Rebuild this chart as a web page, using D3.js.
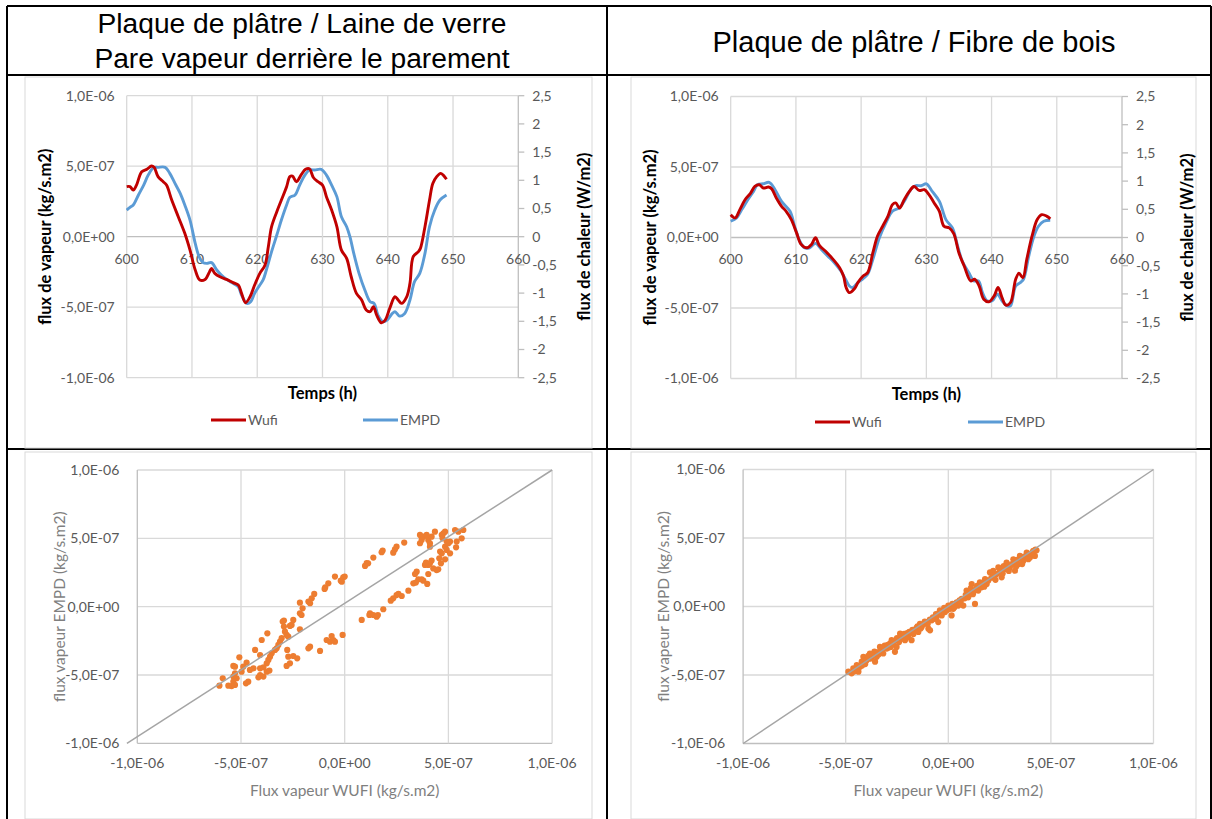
<!DOCTYPE html>
<html><head><meta charset="utf-8">
<script src="https://cdn.jsdelivr.net/npm/d3@7"></script>
<style>body{margin:0;background:#fff} svg{display:block}</style>
</head><body>
<svg id="c" width="1212" height="819"></svg>
<script>
// Vapour flux values are stored in units of 1e-7 kg/s.m2
const UNIT = 1e-7;

const titleLeft = ["Plaque de plâtre / Laine de verre", "Pare vapeur derrière le parement"];
const titleRight = ["Plaque de plâtre / Fibre de bois"];
const seriesNames = ["Wufi", "EMPD"];

const timeTicks = [600, 610, 620, 630, 640, 650, 660];
const fluxTicks = [-1e-6, -5e-7, 0, 5e-7, 1e-6];
const heatTicks = [-2.5, -2, -1.5, -1, -0.5, 0, 0.5, 1, 1.5, 2, 2.5];

// [time (h), vapour flux] – gypsum board / glass wool
const wufiGlass = [[600,3.55],[600.5,3.55],[601,3.31],[601.5,3.66],[602.3,4.6],[603.1,4.78],[603.8,5.01],[604.2,4.92],[604.8,4.26],[605.6,3.9],[606.1,3.66],[606.9,2.6],[607.9,1.42],[608.9,0.24],[609.7,-0.95],[610.5,-2.36],[611.2,-3.07],[612,-3.03],[612.7,-2.48],[613,-2.25],[613.5,-2.6],[614.3,-2.84],[615.3,-3.03],[616.3,-3.26],[617.1,-3.43],[617.6,-4.02],[618.2,-4.68],[618.9,-4.26],[619.6,-3.43],[620.4,-2.6],[621.2,-2.0],[621.7,-0.71],[622.2,0.71],[623,1.77],[623.7,2.6],[624.5,3.55],[625,4.26],[625.4,4.3],[626,3.9],[626.8,4.44],[627.4,4.78],[628,4.82],[628.6,4.2],[629.3,3.9],[630,3.66],[630.6,2.84],[631.4,1.89],[632.2,0.71],[632.9,-0.95],[633.7,-1.54],[634.4,-2.84],[635.2,-4.02],[636,-4.49],[636.7,-5.2],[637.3,-5.32],[637.8,-4.96],[638.3,-5.56],[639,-6.1],[639.6,-5.91],[640.3,-5.08],[641.1,-4.26],[641.6,-4.49],[642.1,-4.73],[642.9,-4.26],[643.4,-3.31],[643.9,-1.42],[644.7,-1.06],[645,-0.83],[645.7,0.71],[646.4,2.6],[646.9,3.78],[647.5,4.26],[648.1,4.49],[648.5,4.37],[649,4.07]];
const empdGlass = [[600,1.89],[600.5,2.08],[601,2.25],[601.8,2.96],[602.6,3.66],[603.3,4.37],[604.1,4.89],[604.8,4.92],[605.9,4.92],[606.6,4.49],[607.4,3.78],[608.2,3.07],[608.9,2.25],[609.7,1.18],[610.5,-0.47],[611.1,-1.42],[611.7,-1.84],[612.3,-1.89],[613,-1.84],[613.8,-2.36],[614.5,-2.72],[615.3,-3.03],[616.3,-3.31],[617.1,-3.55],[617.6,-4.14],[618.4,-4.73],[619,-4.61],[619.6,-4.02],[620.4,-3.43],[620.9,-3.07],[621.4,-2.36],[622.2,-1.06],[623,0.12],[623.7,1.18],[624.5,2.25],[625,2.79],[625.8,2.96],[626.5,3.66],[627.3,4.37],[628,4.73],[628.8,4.73],[629.8,4.78],[630.6,4.37],[631.4,3.66],[632.2,2.84],[632.9,1.42],[633.7,0.71],[634.2,0],[634.8,-1.2],[635.6,-2.6],[636.5,-3.8],[637.3,-4.61],[637.9,-4.73],[638.5,-5.56],[639.3,-6.03],[639.9,-5.91],[640.7,-5.44],[641.1,-5.32],[641.8,-5.63],[642.6,-5.44],[643.4,-4.49],[644.1,-3.19],[644.9,-2.6],[645.7,-1.18],[646.4,0.71],[647.2,1.89],[648,2.6],[649,2.96]];

// [time (h), vapour flux] – gypsum board / wood fibre
const wufiWood = [[600,1.62],[600.7,1.39],[601.4,1.98],[602.2,2.68],[603,3.11],[603.7,3.62],[604.4,3.74],[605,3.51],[605.8,3.58],[606.3,3.44],[607,2.8],[607.8,2.21],[608.5,1.86],[609.3,1.27],[610.1,0.33],[610.8,-0.49],[611.7,-0.73],[612.4,-0.49],[613,-0.02],[613.6,-0.56],[614.7,-1.04],[615.7,-1.55],[616.7,-2.14],[617.3,-2.73],[617.7,-3.55],[618.2,-3.91],[619,-3.62],[619.5,-3.2],[620.3,-2.73],[621,-2.49],[621.8,-1.08],[622.5,0.09],[623.3,0.8],[624.1,1.5],[624.8,2.33],[625.3,2.45],[625.9,2.09],[626.6,2.68],[627.4,3.27],[628.1,3.62],[628.9,3.34],[629.7,3.39],[630.4,3.04],[631.2,2.45],[632,1.86],[632.7,0.8],[633.5,0.68],[634.2,0.27],[635,-1.1],[635.8,-2.02],[636.8,-3.08],[637.4,-2.96],[638.1,-3.44],[638.8,-4.38],[639.6,-4.56],[640.4,-4.14],[641,-3.55],[641.6,-4.26],[642.2,-4.8],[642.9,-4.61],[643.7,-2.96],[644.2,-2.54],[644.8,-2.85],[645.4,-1.55],[646.2,0.09],[647,1.27],[647.7,1.62],[648.5,1.5],[649,1.32]];
const empdWood = [[600,1.15],[600.9,1.39],[601.7,1.98],[602.7,2.73],[603.5,3.27],[604.1,3.74],[605,3.81],[605.9,3.91],[606.8,3.39],[607.8,2.56],[609.1,1.86],[609.8,0.8],[610.6,-0.26],[611.3,-0.73],[612.1,-0.73],[613,-0.42],[613.9,-0.85],[614.9,-1.32],[615.9,-1.79],[616.9,-2.38],[617.6,-2.96],[618.2,-3.44],[618.7,-3.55],[619.5,-3.2],[620.3,-2.92],[621,-2.61],[621.8,-1.55],[622.8,-0.02],[623.8,1.04],[624.8,1.86],[625.8,2.09],[626.6,2.56],[627.6,3.39],[628.3,3.67],[629.2,3.67],[630,3.81],[630.9,3.27],[632,2.56],[633,1.27],[634,0.68],[634.8,-0.61],[635.5,-1.67],[636.5,-2.49],[637.3,-3.08],[638,-3.08],[638.6,-3.91],[639.3,-4.49],[640.1,-4.49],[640.9,-4.02],[641.6,-4.49],[642.4,-4.85],[642.9,-4.85],[643.7,-3.44],[644.4,-3.2],[644.9,-2.96],[645.7,-1.32],[646.5,0.09],[647.2,0.8],[648,1.15],[649,1.22]];

// [WUFI flux, EMPD flux] pairs – glass wool
const scatterGlass = [[1.38,3.59],[1.06,3.18],[0.98,2.98],[1.13,3.17],[-0.07,2.15],[-0.14,1.83],[-0.47,2.2],[0,2.2],[-0.19,1.9],[-0.79,1.71],[-0.94,1.41],[-0.97,1.30],[-1.47,0.93],[-1.59,0.61],[-1.75,0.37],[-1.67,0.25],[-2.16,0.29],[-2.03,-0.12],[-2.16,-0.49],[-2.08,-0.61],[-2.48,-0.97],[-2.93,-1.02],[-2.99,-1.09],[-2.56,-1.34],[-2.64,-1.41],[-2.16,-1.66],[-2.93,-1.46],[-2.88,-1.83],[-2.80,-2.07],[-2.72,-2.20],[-3.73,-1.95],[-4.0,-2.44],[-3.04,-2.31],[-3.12,-2.56],[-3.20,-2.80],[-3.28,-3.05],[-3.36,-3.17],[-4.32,-3.17],[-3.52,-3.41],[-3.60,-3.66],[-3.68,-3.90],[-3.76,-4.15],[-4.08,-3.54],[-2.77,-3.17],[-2.72,-3.66],[-2.48,-3.61],[-2.29,-3.78],[-1.67,-2.93],[-1.75,-3.05],[-1.19,-3.24],[-0.87,-2.44],[-0.71,-2.56],[-0.55,-2.44],[-0.63,-2.15],[-0.47,-2.56],[-0.10,-2.07],[0.82,-0.97],[1.22,-0.49],[1.19,-0.61],[1.38,-0.61],[1.54,-0.73],[1.6,-0.61],[-2.80,-4.34],[-2.64,-4.15],[-5.08,-3.71],[-4.73,-4.1],[-4.89,-4.39],[-4.97,-4.76],[-5.37,-4.34],[-5.29,-4.39],[-4.40,-4.51],[-4.08,-4.51],[-3.92,-4.44],[-4.57,-4.63],[-3.76,-4.76],[-3.63,-4.68],[-5.29,-4.88],[-5.37,-5.12],[-5.21,-5.24],[-4.08,-5.0],[-3.92,-5.12],[-4.16,-5.17],[-4.65,-5.49],[-4.76,-5.61],[-5.88,-5.24],[-5.37,-5.49],[-5.29,-5.73],[-5.45,-5.81],[-6.04,-5.78],[-5.61,-5.78],[1.83,4.10],[1.78,3.98],[2.34,3.95],[2.42,4.19],[2.50,4.39],[2.87,4.69],[3.63,5.25],[3.79,5.12],[3.63,4.64],[3.71,4.88],[4.03,4.88],[4.11,4.64],[4.19,5.12],[4.35,5.49],[4.11,4.39],[3.95,5.25],[4.68,5.25],[4.76,5.37],[4.84,5.49],[4.72,5.0],[5.32,5.61],[5.48,5.49],[5.72,5.61],[5.64,5.0],[5.40,4.76],[5.37,4.34],[4.92,4.76],[5.08,4.76],[4.84,4.39],[4.92,4.15],[5.08,3.90],[5.0,4.64],[4.60,4.03],[4.68,3.90],[4.56,3.54],[4.84,3.46],[4.64,3.17],[4.51,2.73],[4.19,3.37],[4.11,3.17],[4.03,3.05],[4.27,2.80],[4.43,2.68],[3.87,3.05],[3.92,3.22],[3.47,2.56],[3.39,2.39],[4.03,2.39],[3.55,2.0],[3.71,2.0],[3.79,1.90],[3.31,1.71],[3.43,1.76],[3.98,1.66],[3.07,1.17],[2.75,0.78],[2.59,0.93],[2.50,0.85],[2.34,0.61],[2.22,0.44],[1.86,-0.19]];

// [WUFI flux, EMPD flux] pairs – wood fibre
const scatterWood = [[-4.87,-4.76],[-4.63,-4.52],[-4.46,-4.28],[-4.71,-4.88],[-4.38,-4.76],[-4.55,-4.6],[-4.3,-4.4],[-4.14,-3.67],[-4.22,-4.03],[-3.98,-3.91],[-4.05,-4.2],[-3.82,-3.43],[-3.74,-3.79],[-3.9,-3.6],[-3.57,-4.03],[-3.49,-3.67],[-3.6,-3.3],[-3.33,-2.95],[-3.25,-3.19],[-3.17,-3.43],[-3.4,-3.5],[-3.0,-3.07],[-3.1,-2.85],[-2.84,-2.71],[-2.76,-2.46],[-2.6,-3.31],[-2.52,-2.95],[-2.9,-3.0],[-2.7,-2.75],[-2.45,-2.45],[-2.35,-1.98],[-2.27,-2.34],[-2.11,-2.46],[-2.2,-2.15],[-1.95,-2.22],[-1.79,-2.46],[-1.87,-1.86],[-2.0,-1.95],[-1.62,-1.74],[-1.46,-1.86],[-1.55,-1.55],[-1.3,-1.5],[-1.38,-1.26],[-1.2,-1.3],[-0.97,-1.62],[-0.89,-1.74],[-1.05,-1.14],[-0.81,-1.01],[-0.9,-0.95],[-0.57,-0.77],[-0.49,-1.14],[-0.65,-0.9],[-0.41,-0.29],[-0.32,-0.65],[-0.45,-0.5],[-0.16,-0.41],[-0.25,-0.3],[0,0.07],[0.08,-0.17],[0.16,-0.65],[0.24,-0.17],[0.1,0.05],[0.41,0.31],[0.49,0.07],[0.35,0.1],[0.65,0.55],[0.73,0.07],[0.6,0.3],[0.89,1.16],[0.97,0.67],[0.85,0.85],[1.14,1.64],[1.22,1.04],[1.30,0.19],[1.05,1.1],[1.46,1.16],[1.54,1.76],[1.62,1.4],[1.4,1.5],[1.79,2.0],[1.87,1.64],[1.7,1.75],[2.03,2.49],[2.19,2.61],[2.35,2.37],[2.1,2.1],[2.44,2.85],[2.6,2.13],[2.5,2.5],[2.76,2.73],[2.84,3.21],[2.7,2.95],[3.0,2.85],[3.17,3.45],[3.25,2.61],[3.1,3.1],[3.41,3.09],[3.49,3.69],[3.35,3.4],[3.65,3.33],[3.82,3.93],[3.7,3.65],[3.98,3.57],[4.14,4.06],[4.22,3.69],[4.05,3.85],[4.25,4.15],
  [-4.6,-4.75],[-4.45,-4.55],[-4.2,-4.3],[-4.0,-3.95],[-3.85,-3.8],[-3.7,-3.55],[-3.45,-3.35],[-3.3,-3.2],[-3.15,-3.0],[-2.95,-2.8],[-2.8,-2.95],[-2.65,-2.6],[-2.5,-2.3],[-2.4,-2.6],[-2.3,-2.2],[-2.15,-2.0],[-2.05,-2.3],[-1.9,-1.85],[-1.75,-1.7],[-1.7,-2.0],[-1.5,-1.45],[-1.35,-1.6],[-1.15,-1.1],[-1.0,-1.25],[-0.75,-0.8],[-0.6,-0.55],[-0.35,-0.45],[-0.2,-0.1],[-0.05,-0.25],[0.2,0.2],[0.3,-0.05],[0.55,0.45],[0.8,0.6],[0.95,0.95],[1.1,1.35],[1.2,0.9],[1.35,1.25],[1.6,1.6],[1.75,1.45],[1.95,1.9],[2.2,2.3],[2.3,1.95],[2.55,2.65],[2.65,2.4],[2.9,3.0],[2.95,2.6],[3.2,3.25],[3.3,2.9],[3.55,3.5],[3.6,3.1],[3.85,3.75],[3.9,3.45],[4.1,3.95],[4.3,4.1]];

const svg = d3.select("#c");
const FONT = "Lato, 'Open Sans', sans-serif";
const GRID = "#D9D9D9";
const TXT = "#595959";
const RED = "#C00000", BLUE = "#5B9BD5", ORANGE = "#ED7D31";

function fmtE(v) {
  if (v === 0) return "0,0E+00";
  const e = Math.floor(Math.log10(Math.abs(v)) + 1e-9);
  const m = v / Math.pow(10, e);
  return m.toFixed(1).replace(".", ",") + "E" + (e < 0 ? "-" : "+") + String(Math.abs(e)).padStart(2, "0");
}
const fmtDec = v => String(v).replace(".", ",");

// table frame
const frame = svg.append("g").attr("stroke", "#000").attr("stroke-width", 2);
[[7, 6, 1211, 6], [7, 75, 1211, 75], [7, 449, 1211, 449], [7, 6, 7, 819], [607, 6, 607, 819], [1211, 6, 1211, 819]]
  .forEach(([a, b, c, d]) => frame.append("line").attr("x1", a).attr("y1", b).attr("x2", c).attr("y2", d));

// header texts
function header(lines, cx, cy, size) {
  const t = svg.append("text").attr("text-anchor", "middle").attr("font-family", "'Liberation Sans', Arial, sans-serif")
    .attr("font-size", size).attr("fill", "#000");
  lines.forEach((s, i) => t.append("tspan").attr("x", cx).attr("y", cy + (i - (lines.length - 1) / 2) * 35).attr("dy", "0.36em").text(s));
}
header(titleLeft, 302, 40, 28.2);
header(titleRight, 914, 42, 29);

// chart area boxes
[[25, 77, 567, 371], [631, 77, 565, 371], [25, 452, 567, 367], [631, 452, 565, 367]].forEach(([x, y, w, h]) =>
  svg.append("rect").attr("x", x).attr("y", y).attr("width", w).attr("height", h).attr("fill", "#fff").attr("stroke", GRID).attr("stroke-width", 1));

function timeChart(o) {
  const g = svg.append("g");
  const x = d3.scaleLinear().domain([600, 660]).range([o.x0, o.x1]);
  const y = d3.scaleLinear().domain([-1e-6, 1e-6]).range([o.yb, o.yt]);
  const y2 = d3.scaleLinear().domain([-2.5, 2.5]).range([o.yb, o.yt]);

  g.selectAll(".hg").data(fluxTicks).join("line")
    .attr("x1", o.x0).attr("x2", o.x1).attr("y1", d => y(d)).attr("y2", d => y(d))
    .attr("stroke", d => d === 0 ? "#BFBFBF" : GRID).attr("stroke-width", 1.3);
  g.selectAll(".vg").data(timeTicks).join("line")
    .attr("x1", d => x(d)).attr("x2", d => x(d)).attr("y1", o.yt).attr("y2", o.yb)
    .attr("stroke", d => d === 660 ? "#BFBFBF" : GRID).attr("stroke-width", 1.3);
  g.selectAll(".rt").data(heatTicks).join("line")
    .attr("x1", o.x1).attr("x2", o.x1 + 6).attr("y1", d => y2(d)).attr("y2", d => y2(d))
    .attr("stroke", "#BFBFBF").attr("stroke-width", 1.3);

  const lab = g.append("g").attr("font-family", FONT).attr("font-size", 14).attr("fill", TXT);
  lab.selectAll(".yl").data(fluxTicks).join("text")
    .attr("x", o.x0 - 12).attr("y", d => y(d)).attr("dy", "0.35em").attr("text-anchor", "end").text(fmtE);
  lab.selectAll(".yr").data(heatTicks).join("text")
    .attr("x", o.x1 + 14).attr("y", d => y2(d)).attr("dy", "0.35em").text(fmtDec);
  lab.selectAll(".xl").data(timeTicks).join("text")
    .attr("x", d => x(d)).attr("y", y(0) + 22).attr("dy", "0.35em").attr("text-anchor", "middle").text(d => d);

  const line = d3.line().x(d => x(d[0])).y(d => y(d[1] * UNIT)).curve(d3.curveCatmullRom.alpha(0.5));
  g.append("path").datum(o.b).attr("d", line).attr("fill", "none").attr("stroke", BLUE).attr("stroke-width", 2.9);
  g.append("path").datum(o.a).attr("d", line).attr("fill", "none").attr("stroke", RED).attr("stroke-width", 2.9);

  const tt = g.append("g").attr("font-family", FONT).attr("font-size", 16.5).attr("font-weight", "bold").attr("fill", "#000");
  tt.append("text").attr("transform", `translate(${o.ylx},${y(0)}) rotate(-90)`).attr("text-anchor", "middle").attr("dy", "0.35em").text("flux de vapeur (kg/s.m2)");
  tt.append("text").attr("transform", `translate(${o.yrx},${y(0)}) rotate(-90)`).attr("text-anchor", "middle").attr("dy", "0.35em").text("flux de chaleur (W/m2)");
  tt.append("text").attr("x", (o.x0 + o.x1) / 2).attr("y", o.yb + 16).attr("dy", "0.35em").attr("text-anchor", "middle").text("Temps (h)");

  const colors = [RED, BLUE];
  seriesNames.forEach((n, i) => {
    const lx = o.legX[i];
    g.append("line").attr("x1", lx).attr("x2", lx + 35).attr("y1", o.legY).attr("y2", o.legY).attr("stroke", colors[i]).attr("stroke-width", 3);
    g.append("text").attr("x", lx + 37).attr("y", o.legY).attr("dy", "0.35em").attr("font-family", FONT).attr("font-size", 14).attr("fill", TXT).text(n);
  });
}

timeChart({ x0: 126.7, x1: 518.3, yt: 95.7, yb: 377.7, a: wufiGlass, b: empdGlass, ylx: 45, yrx: 584, legX: [211, 363], legY: 420 });
timeChart({ x0: 730.7, x1: 1122, yt: 96.5, yb: 378.5, a: wufiWood, b: empdWood, ylx: 650, yrx: 1187, legX: [815, 968], legY: 422 });

function scatterChart(o) {
  const g = svg.append("g");
  const x = d3.scaleLinear().domain([-1e-6, 1e-6]).range([o.x0, o.x1]);
  const y = d3.scaleLinear().domain([-1e-6, 1e-6]).range([o.yb, o.yt]);
  g.selectAll(".hg").data(fluxTicks).join("line")
    .attr("x1", o.x0).attr("x2", o.x1).attr("y1", d => y(d)).attr("y2", d => y(d))
    .attr("stroke", d => d === -1e-6 ? "#BFBFBF" : GRID).attr("stroke-width", 1.3);
  g.selectAll(".vg").data(fluxTicks).join("line")
    .attr("x1", d => x(d)).attr("x2", d => x(d)).attr("y1", o.yt).attr("y2", o.yb)
    .attr("stroke", d => d === -1e-6 ? "#BFBFBF" : GRID).attr("stroke-width", 1.3);

  const lab = g.append("g").attr("font-family", FONT).attr("font-size", 14).attr("fill", TXT);
  lab.selectAll(".yl").data(fluxTicks).join("text")
    .attr("x", o.x0 - 18).attr("y", d => y(d)).attr("dy", "0.35em").attr("text-anchor", "end").text(fmtE);
  lab.selectAll(".xl").data(fluxTicks).join("text")
    .attr("x", d => x(d)).attr("y", o.yb + 20).attr("dy", "0.35em").attr("text-anchor", "middle").text(fmtE);

  g.selectAll(".pt").data(o.pts).join("circle")
    .attr("cx", d => x(d[0] * UNIT)).attr("cy", d => y(d[1] * UNIT)).attr("r", 3.1).attr("fill", ORANGE);

  g.append("line").attr("x1", x(o.diag[0])).attr("y1", y(-1e-6)).attr("x2", x(1e-6)).attr("y2", y(1e-6))
    .attr("stroke", "#A5A5A5").attr("stroke-width", 1.5);

  const tt = g.append("g").attr("font-family", FONT).attr("font-size", 15.5).attr("fill", "#7F7F7F");
  tt.append("text").attr("transform", `translate(${o.ylx},${y(0)}) rotate(-90)`).attr("text-anchor", "middle").attr("dy", "0.35em").text("flux vapeur EMPD (kg/s.m2)");
  tt.append("text").attr("x", x(0)).attr("y", o.yb + 47).attr("dy", "0.35em").attr("text-anchor", "middle").text("Flux vapeur WUFI (kg/s.m2)");
}

scatterChart({ x0: 137.3, x1: 552.1, yt: 470, yb: 743.3, pts: scatterGlass, diag: [-1.05e-6], ylx: 60 });
scatterChart({ x0: 743.1, x1: 1153.5, yt: 469.5, yb: 743.5, pts: scatterWood, diag: [-1e-6], ylx: 664 });
</script>
</body></html>
